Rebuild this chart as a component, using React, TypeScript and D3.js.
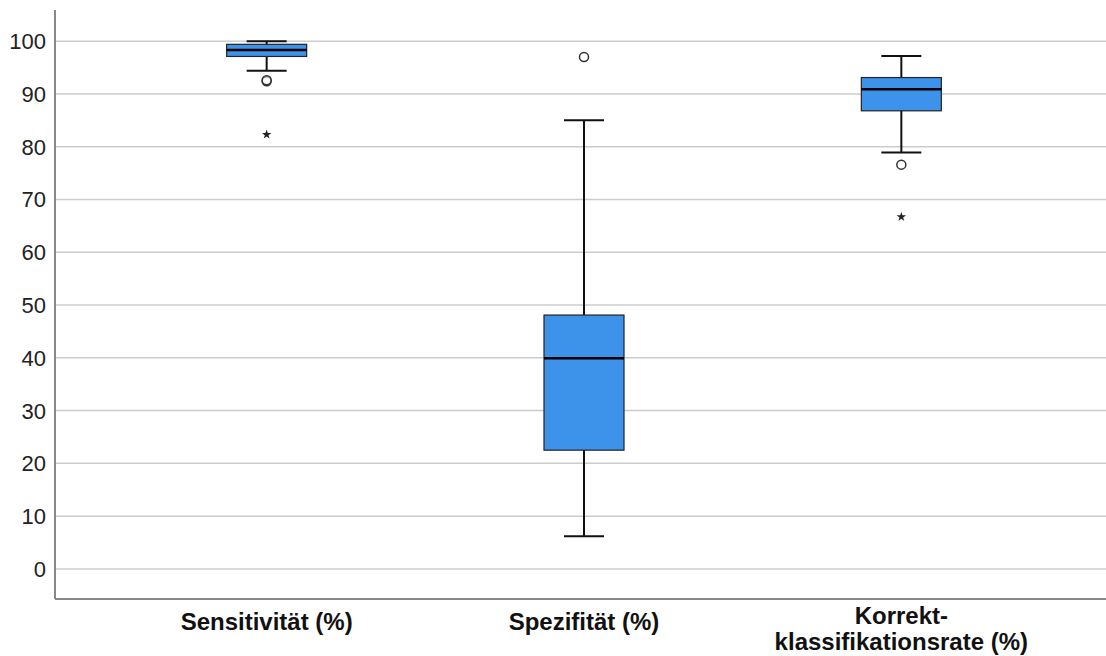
import React, { useEffect, useRef } from "react";
import * as d3 from "d3";

// Werte
const categories = ["Sensitivität (%)", "Spezifität (%)", "Korrekt-\nklassifikationsrate (%)"];
const whiskerLow = [94.4, 6.2, 78.9];
const q1 = [97.1, 22.5, 86.8];
const median = [98.3, 39.9, 90.9];
const q3 = [99.4, 48.1, 93.1];
const whiskerHigh = [100, 85.0, 97.2];
const outliers = [[92.4, 92.6], [97.0], [76.6]];
const extremes = [[82.3], [], [66.7]];
const yTicks = [0, 10, 20, 30, 40, 50, 60, 70, 80, 90, 100];

const App = () => {
    const ref = useRef<SVGSVGElement | null>(null);

    useEffect(() => {
        const w = 1106,
            h = 656;
        const left = 55,
            top = 10,
            bottom = 599;

        const svg = d3.select(ref.current);
        svg.selectAll("*").remove();

        const y = d3.scaleLinear().domain([-5.7, 105.9]).range([bottom, top]);
        const x = d3.scalePoint().domain(categories).range([left, 1113]).padding(0.667);

        const font = "'Liberation Sans', Arial, sans-serif";

        // Gitterlinien
        svg.append("g")
            .selectAll("line")
            .data(yTicks)
            .enter()
            .append("line")
            .attr("x1", left)
            .attr("x2", w)
            .attr("y1", d => y(d))
            .attr("y2", d => y(d))
            .attr("stroke", "#cccccc")
            .attr("stroke-width", 1.5);

        // Achsen
        svg.append("line")
            .attr("x1", left).attr("x2", left)
            .attr("y1", top).attr("y2", bottom)
            .attr("stroke", "#888").attr("stroke-width", 2);
        svg.append("line")
            .attr("x1", left).attr("x2", w)
            .attr("y1", bottom).attr("y2", bottom)
            .attr("stroke", "#888").attr("stroke-width", 2);

        svg.append("g")
            .selectAll("text")
            .data(yTicks)
            .enter()
            .append("text")
            .attr("x", 46)
            .attr("y", d => y(d))
            .attr("dy", "0.36em")
            .attr("text-anchor", "end")
            .style("font-family", font)
            .style("font-size", "22px")
            .style("fill", "#222")
            .text(d => d);

        const boxW = 80,
            capW = 40;

        const g = svg.append("g")
            .selectAll("g")
            .data(categories)
            .enter()
            .append("g")
            .attr("transform", d => `translate(${x(d)},0)`);

        // Whisker
        g.append("line")
            .attr("x1", 0).attr("x2", 0)
            .attr("y1", (d, i) => y(whiskerLow[i]))
            .attr("y2", (d, i) => y(whiskerHigh[i]))
            .attr("stroke", "#111").attr("stroke-width", 2);
        [whiskerLow, whiskerHigh].forEach(arr => {
            g.append("line")
                .attr("x1", -capW / 2).attr("x2", capW / 2)
                .attr("y1", (d, i) => y(arr[i]))
                .attr("y2", (d, i) => y(arr[i]))
                .attr("stroke", "#111").attr("stroke-width", 2);
        });

        // Box
        g.append("rect")
            .attr("x", -boxW / 2)
            .attr("width", boxW)
            .attr("y", (d, i) => y(q3[i]))
            .attr("height", (d, i) => y(q1[i]) - y(q3[i]))
            .attr("fill", "#3d93ea")
            .attr("stroke", "#222")
            .attr("stroke-width", 1.2);

        g.append("line")
            .attr("x1", -boxW / 2).attr("x2", boxW / 2)
            .attr("y1", (d, i) => y(median[i]))
            .attr("y2", (d, i) => y(median[i]))
            .attr("stroke", "#000").attr("stroke-width", 2.5);

        // Ausreißer
        g.each(function (d, i) {
            const sel = d3.select(this);
            sel.selectAll("circle")
                .data(outliers[i])
                .enter()
                .append("circle")
                .attr("cx", 0)
                .attr("cy", v => y(v))
                .attr("r", 4.5)
                .attr("fill", "white")
                .attr("fill-opacity", 0.5)
                .attr("stroke", "#333")
                .attr("stroke-width", 1.5);
            sel.selectAll("path.star")
                .data(extremes[i])
                .enter()
                .append("path")
                .attr("class", "star")
                .attr("d", d3.symbol().type(d3.symbolStar).size(28)())
                .attr("transform", v => `translate(0,${y(v)})`)
                .attr("fill", "#222");
        });

        // Kategorien
        const labels = svg.append("g")
            .selectAll("text")
            .data(categories)
            .enter()
            .append("text")
            .attr("x", d => x(d) as number)
            .attr("y", d => (d.includes("\n") ? 624 : 630))
            .attr("text-anchor", "middle")
            .style("font-family", font)
            .style("font-size", "24px")
            .style("font-weight", "bold")
            .style("fill", "#111");
        labels.each(function (d) {
            const parts = d.split("\n");
            d3.select(this)
                .selectAll("tspan")
                .data(parts)
                .enter()
                .append("tspan")
                .attr("x", x(d) as number)
                .attr("dy", (p, j) => (j === 0 ? 0 : 26))
                .text(p => p);
        });

        svg.attr("width", w).attr("height", h);
    }, []);

    return (
        <svg
            ref={ref}
            width={1106}
            height={656}
            style={{ position: "absolute", left: 0, top: 0, background: "white" }}
        />
    );
};

export default App;
